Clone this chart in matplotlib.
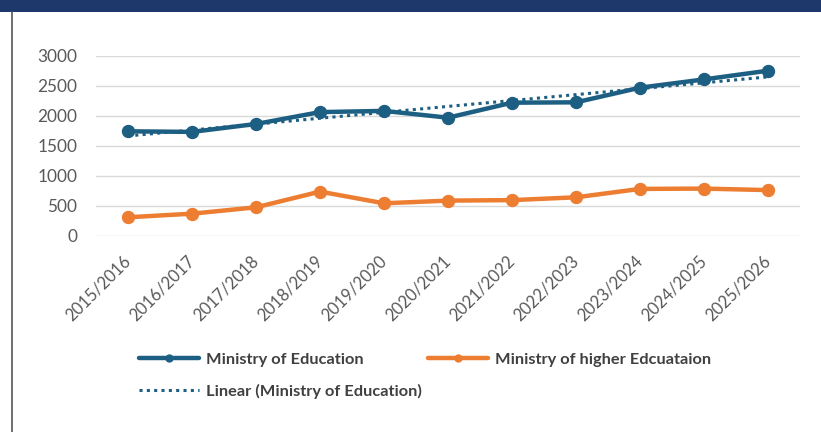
import matplotlib
matplotlib.use("Agg")
import matplotlib.pyplot as plt
import numpy as np
from matplotlib.patches import Rectangle
from matplotlib.lines import Line2D

years = ["2015/2016", "2016/2017", "2017/2018", "2018/2019", "2019/2020",
         "2020/2021", "2021/2022", "2022/2023", "2023/2024", "2024/2025",
         "2025/2026"]
education = [1745, 1735, 1867, 2065, 2085, 1972, 2222, 2228, 2472, 2610, 2755]
higher_education = [312, 372, 478, 740, 545, 590, 598, 645, 785, 790, 765]

BLUE = "#1d5f82"
ORANGE = "#ed7d31"
TEXT = "#595959"

plt.rcParams["font.family"] = ["Lato", "DejaVu Sans"]

fig = plt.figure(figsize=(8.21, 4.32), dpi=100)
fig.patch.set_facecolor("white")

# header band and left frame line
fig.add_artist(Rectangle((0, 1 - 12 / 432), 1, 12 / 432, transform=fig.transFigure,
                         facecolor="#1f386b", edgecolor="none"))
fig.add_artist(Line2D([12 / 821, 12 / 821], [0, 1 - 12 / 432], transform=fig.transFigure,
                      color="#555555", linewidth=1.2))

ax = fig.add_axes([96 / 821, 1 - 236 / 432, 704 / 821, 180 / 432])
x = np.arange(len(years))

ax.plot(x, education, color=BLUE, linewidth=3.2, marker="o", markersize=8.6,
        label="Ministry of Education", zorder=3, solid_capstyle="round")
ax.plot(x, higher_education, color=ORANGE, linewidth=3.2, marker="o", markersize=8.6,
        label="Ministry of higher Edcuataion", zorder=3, solid_capstyle="round")

# linear trend over the education series
slope, intercept = np.polyfit(x, education, 1)
ax.plot(x, slope * x + intercept, color=BLUE, linewidth=2.2, linestyle=(0, (1, 1.4)),
        label="Linear (Ministry of Education)", zorder=4)

ax.set_xlim(-0.5, len(years) - 0.5)
ax.set_ylim(0, 3000)
ax.set_yticks(range(0, 3001, 500))
ax.set_xticks(x)
ax.set_xticklabels(years, rotation=45, ha="right", va="center", rotation_mode="anchor")
ax.grid(axis="y", color="#d9d9d9", linewidth=1)
ax.set_axisbelow(True)
for s in ax.spines.values():
    s.set_visible(False)
ax.tick_params(length=0, labelcolor=TEXT)
ax.tick_params(axis="y", pad=13.5, labelsize=12.4)
ax.tick_params(axis="x", pad=16, labelsize=12)

h, l = ax.get_legend_handles_labels()
leg = fig.legend([h[0], h[2], h[1]], [l[0], l[2], l[1]], ncol=2,
                 loc="upper left", bbox_to_anchor=(131 / 821, 1 - 344 / 432),
                 frameon=False, borderpad=0, handlelength=3.66, handletextpad=0.43,
                 columnspacing=0.37, labelspacing=1.05,
                 prop={"size": 11.8, "weight": "bold"})
for t in leg.get_texts():
    t.set_color("#404040")
for lh in leg.legend_handles:
    lh.set_markersize(5)

fig.savefig("out.png", dpi=100)
